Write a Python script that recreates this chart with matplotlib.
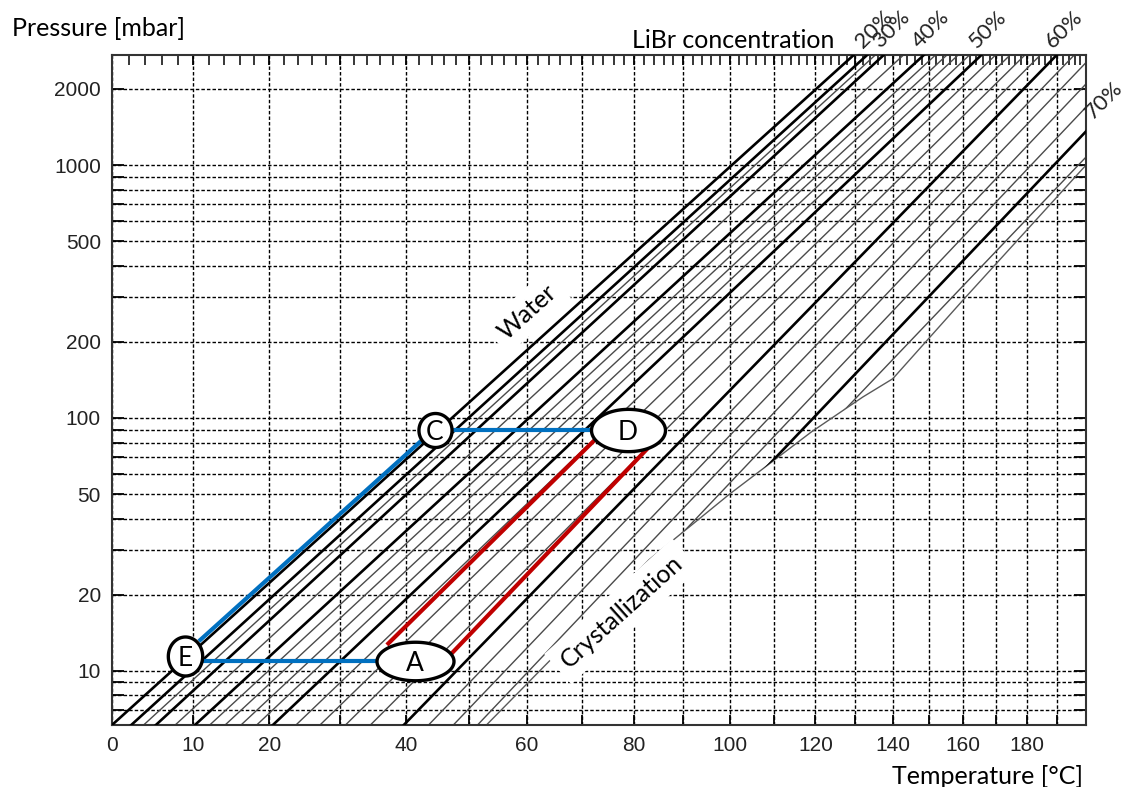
import numpy as np
import matplotlib
matplotlib.use("Agg")
import matplotlib.pyplot as plt
from matplotlib.path import Path
from matplotlib.ticker import FixedLocator, FixedFormatter, NullFormatter

# ---------------- data ----------------
P_LO = 6.11      # mbar, lower reference pressure of the concentration lines
P_HI = 2000.0    # mbar, upper reference pressure of the concentration lines

thick_names = ["Water", "20%", "30%", "40%", "50%", "60%", "70%"]
thick_T_lo = [0.0, 2.3, 5.3, 10.2, 20.5, 39.6, 59.0]        # °C at P_LO
thick_T_hi = [120.2, 123.6, 127.9, 138.4, 154.8, 178.8, 214.8]  # °C at P_HI

thin_conc = [25, 35, 42, 44, 46, 48, 52, 54, 56, 58, 62, 64, 66, 68, 72, 74]
thin_T_lo = [3.8, 7.7, 12.1, 14.1, 16.2, 18.3, 23.7, 27.1, 30.8, 34.5,
             43.5, 47.5, 51.5, 55.4, 63.0, 66.6]
thin_T_hi = [125.7, 133.0, 141.6, 144.8, 148.0, 151.3, 159.1, 163.6, 168.3,
             173.3, 184.7, 191.2, 198.3, 206.2, 224.3, 234.7]

cryst_T = [53, 83, 100, 119, 132, 140, 160, 200]
cryst_P = [6.11, 27.5, 50, 88, 121, 143, 293, 1000]

point_names = ["E", "C", "D", "A"]
point_T = [8.9, 44.5, 78.8, 41.4]
point_P = [11.5, 89.7, 89.7, 10.95]
point_w = [37, 36, 77, 80]     # ellipse width  (px)
point_h = [42, 37, 44, 40]     # ellipse height (px)

blue_EC_T, blue_EC_P = [10.7, 42.3], [13.1, 81.1]
blue_CD_T, blue_CD_P = [44.5, 78.8], [89.7, 89.7]
blue_EA_T, blue_EA_P = [8.9, 41.4], [10.95, 10.95]
red1_T, red1_P = [37.0, 72.4], [12.67, 81.9]
red2_T, red2_P = [47.0, 82.8], [11.57, 76.1]

x_ticks = list(range(0, 201, 10))
x_labelled = [0, 10, 20, 40, 60, 80, 100, 120, 140, 160, 180]
x_minor = [t for t in range(2, 200, 2) if t % 10 != 0]
y_major = [10, 20, 50, 100, 200, 500, 1000, 2000]
y_minor = [7, 8, 9, 30, 40, 60, 70, 80, 90, 300, 400, 600, 700, 800, 900]

# ---------------- figure ----------------
plt.rcParams["font.family"] = ["Liberation Sans", "DejaVu Sans"]
W, H = 1128, 787
fig = plt.figure(figsize=(W / 100, H / 100), dpi=100)
ax = fig.add_axes([112 / W, 1 - 725 / H, (1086 - 112) / W, (725 - 55) / H])


def fwd(T):
    return -1.0 / (np.asarray(T, dtype=float) + 273.15)


def inv(u):
    return -1.0 / np.asarray(u, dtype=float) - 273.15


ax.set_xscale("function", functions=(fwd, inv))
ax.set_yscale("log")
ax.set_xlim(0, 200)
ax.set_ylim(6.11, 2725)

lo, hi = np.log10(P_LO), np.log10(P_HI)


def line_pts(t_lo, t_hi, p_ext=(3.0, 6000.0)):
    u_lo, u_hi = fwd(t_lo), fwd(t_hi)
    v = np.log10(np.asarray(p_ext))
    u = u_lo + (v - lo) / (hi - lo) * (u_hi - u_lo)
    return inv(u), np.asarray(p_ext)


# clip region: left of / above the crystallization line
clip_T = [-20, cryst_T[0]] + cryst_T + [260, 260, -20]
clip_P = [2, 2] + cryst_P + [cryst_P[-1], 1e5, 1e5]
clip = Path(np.column_stack([clip_T, clip_P]))

# grid
grid_style = dict(color="black", lw=1.0, ls=(0, (2.5, 1.5)))
ax.xaxis.set_major_locator(FixedLocator(x_ticks))
ax.xaxis.set_major_formatter(FixedFormatter([str(t) if t in x_labelled else "" for t in x_ticks]))
ax.xaxis.set_minor_locator(FixedLocator(x_minor))
ax.xaxis.set_minor_formatter(NullFormatter())
ax.yaxis.set_major_locator(FixedLocator(y_major))
ax.yaxis.set_major_formatter(FixedFormatter([str(v) for v in y_major]))
ax.yaxis.set_minor_locator(FixedLocator(y_minor))
ax.yaxis.set_minor_formatter(NullFormatter())
ax.grid(True, axis="x", which="major", **grid_style)
ax.grid(True, axis="y", which="both", **grid_style)
ax.set_axisbelow(True)

ax.tick_params(axis="x", which="major", direction="in", length=7, width=1.3,
               top=True, bottom=True, pad=8, labelsize=15, labelcolor="#222222")
ax.tick_params(axis="x", which="minor", direction="in", length=7, width=1.1,
               top=True, bottom=False)
ax.tick_params(axis="y", which="both", direction="in", length=8.5, width=1.3,
               left=True, right=True, pad=8, labelsize=15, labelcolor="#222222")
for s in ax.spines.values():
    s.set_linewidth(1.5)
    s.set_color("#333333")

# thin concentration lines
for tl, th in zip(thin_T_lo, thin_T_hi):
    xs, ys = line_pts(tl, th)
    ln, = ax.plot(xs, ys, color="#4a4a4a", lw=1.0, zorder=2)
    ln.set_clip_path(clip, ax.transData)

# thick concentration lines
for tl, th in zip(thick_T_lo, thick_T_hi):
    xs, ys = line_pts(tl, th)
    ln, = ax.plot(xs, ys, color="black", lw=1.9, zorder=3)
    ln.set_clip_path(clip, ax.transData)

# crystallization line
ax.plot(cryst_T, cryst_P, color="#5a5a5a", lw=1.0, zorder=2)

# concentration labels
pct_font = dict(family=["Lato", "DejaVu Sans"], fontsize=16, color="#222222")
top_P = ax.get_ylim()[1]
for name, tl, th in zip(thick_names[1:6], thick_T_lo[1:6], thick_T_hi[1:6]):
    xs, _ = line_pts(tl, th, p_ext=(top_P, top_P * 2))
    ax.annotate(name, (xs[0], top_P), xytext=(-1, 2), textcoords="offset points",
                rotation=45, rotation_mode="anchor", ha="left", va="bottom",
                annotation_clip=False, **pct_font)
# 70% at the right edge
u_lo, u_hi = fwd(thick_T_lo[6]), fwd(thick_T_hi[6])
v_edge = lo + (fwd(200) - u_lo) / (u_hi - u_lo) * (hi - lo)
ax.annotate(thick_names[6], (200, 10 ** v_edge), xytext=(7, 6), textcoords="offset points",
            rotation=45, rotation_mode="anchor", ha="left", va="bottom",
            annotation_clip=False, **pct_font)

# Water / Crystallization labels
lab_font = dict(family=["Lato", "DejaVu Sans"], fontsize=18, color="black")
ax.text(60.0, 262, "Water", rotation=42, ha="center", va="center", zorder=4,
        bbox=dict(boxstyle="square,pad=0.3", fc="white", ec="none"), **lab_font)
ax.text(77.6, 17.2, "Crystallization", rotation=42, ha="center", va="center", zorder=4,
        bbox=dict(boxstyle="square,pad=0.35", fc="white", ec="none"), **lab_font)

# cycle lines
blue, red = "#0070C0", "#C00000"
for xs, ys, c in [(blue_EC_T, blue_EC_P, blue), (blue_CD_T, blue_CD_P, blue),
                  (blue_EA_T, blue_EA_P, blue), (red1_T, red1_P, red), (red2_T, red2_P, red)]:
    ax.plot(xs, ys, color=c, lw=3.0, solid_capstyle="butt", zorder=5)

# points
t = np.linspace(0, 2 * np.pi, 120)
for name, T, P, w, h in zip(point_names, point_T, point_P, point_w, point_h):
    m = max(w, h)
    mpath = Path(np.column_stack([np.cos(t) * w / m, np.sin(t) * h / m]), closed=True)
    ax.plot([T], [P], marker=mpath, ms=(m - 3) * 0.72, mfc="white", mec="black",
            mew=2.4, ls="none", zorder=6)
    ax.text(T, P, name, ha="center", va="center_baseline", zorder=7,
            family=["Lato", "DejaVu Sans"], fontsize=19, color="black")

# axis titles
tfont = dict(family=["Lato", "DejaVu Sans"], fontsize=18, color="black")
fig.text(12 / W, 1 - 28 / H, "Pressure [mbar]", ha="left", va="center", **tfont)
fig.text(733 / W, 1 - 40 / H, "LiBr concentration", ha="center", va="center", **tfont)
fig.text(988 / W, 1 - 776 / H, "Temperature [°C]", ha="center", va="center", **tfont)

fig.savefig("out.png", dpi=100)
